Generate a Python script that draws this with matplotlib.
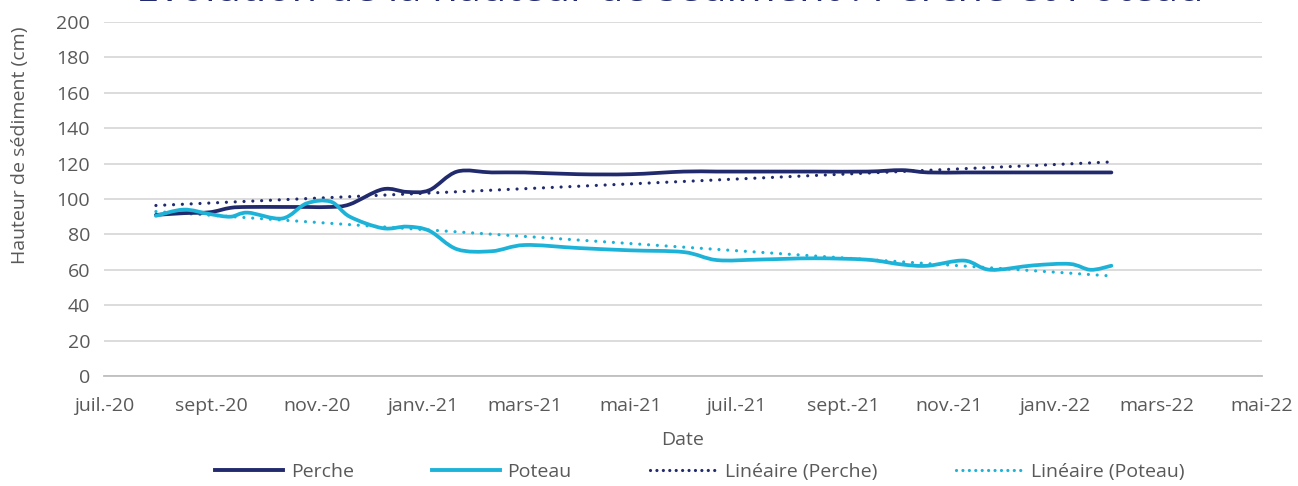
import numpy as np
import matplotlib
matplotlib.use("Agg")
import matplotlib.pyplot as plt
import matplotlib.dates as mdates
from matplotlib.path import Path
from matplotlib.patches import PathPatch
from matplotlib.lines import Line2D

plt.rcParams['font.family'] = ['Open Sans', 'DejaVu Sans']

# ---------------- data ----------------
dates = ["2020-07-31", "2020-08-16", "2020-08-31", "2020-09-12", "2020-09-22",
         "2020-10-12", "2020-10-26", "2020-11-09", "2020-11-20", "2020-12-09",
         "2020-12-23", "2021-01-05", "2021-01-21", "2021-02-10", "2021-03-01",
         "2021-04-01", "2021-05-01", "2021-06-01", "2021-06-20", "2021-07-15",
         "2021-08-15", "2021-09-15", "2021-10-05", "2021-10-20", "2021-11-10",
         "2021-11-25", "2021-12-20", "2022-01-10", "2022-01-22", "2022-02-03"]
perche = [91, 92, 92.5, 95, 95.5, 95.5, 95.5, 95.5, 97, 105.5,
          104, 105, 115.5, 115, 115, 114, 114, 115.5, 115.5, 115.5,
          115.5, 115.5, 116.3, 115, 115, 115, 115, 115, 115, 115]
poteau = [90.5, 94, 91.5, 90, 92.3, 89, 97.5, 98.5, 90, 83.5,
          84.4, 82, 71.6, 70.5, 74, 72.3, 71, 70, 65.5, 65.8,
          66.5, 65.7, 63, 62.3, 65.2, 60, 62.5, 63.3, 60, 62.3]
series_names = ["Perche", "Poteau"]
trend_names = ["Linéaire (Perche)", "Linéaire (Poteau)"]
tick_dates = ["2020-07-01", "2020-09-01", "2020-11-01", "2021-01-01", "2021-03-01",
              "2021-05-01", "2021-07-01", "2021-09-01", "2021-11-01", "2022-01-01",
              "2022-03-01", "2022-05-01"]
tick_labels = ["juil.-20", "sept.-20", "nov.-20", "janv.-21", "mars-21", "mai-21",
               "juil.-21", "sept.-21", "nov.-21", "janv.-22", "mars-22", "mai-22"]
y_ticks = list(range(0, 201, 20))
title = "Évolution de la hauteur de sédiment : Perche et Poteau"

# ---------------- style ----------------
NAVY = "#222A6E"
CYAN = "#1DB3D8"
GRID = "#D9D9D9"
TXT = "#595959"
FS = 14

W, H = 1298, 486
fig = plt.figure(figsize=(W / 100, H / 100), dpi=100)
L, R, T, B = 104, 1262, 22, 376
ax = fig.add_axes([L / W, 1 - B / H, (R - L) / W, (B - T) / H])

x = mdates.date2num(np.array(dates, dtype="datetime64[D]"))


def smooth_path(xs, ys):
    xs = np.asarray(xs, float)
    ys = np.asarray(ys, float)
    P = np.column_stack([xs, ys])
    n = len(P)
    verts = [P[0]]
    codes = [Path.MOVETO]
    for i in range(n - 1):
        p0 = P[i - 1] if i > 0 else P[i]
        p1 = P[i]
        p2 = P[i + 1]
        p3 = P[i + 2] if i + 2 < n else P[i + 1]
        c1 = p1 + (p2 - p0) / 6.0
        c2 = p2 - (p3 - p1) / 6.0
        verts += [c1, c2, p2]
        codes += [Path.CURVE4] * 3
    return Path(verts, codes)


for vals, col in [(perche, NAVY), (poteau, CYAN)]:
    patch = PathPatch(smooth_path(x, vals), fill=False, edgecolor=col, lw=2.7,
                      capstyle="round", joinstyle="round", zorder=3)
    ax.add_patch(patch)

dot_style = (0, (0.01, 2.75))
for vals, col in [(perche, NAVY), (poteau, CYAN)]:
    k, b = np.polyfit(x, vals, 1)
    xx = np.array([x[0], x[-1]])
    ax.plot(xx, k * xx + b, color=col, lw=2.3, linestyle=dot_style,
            dash_capstyle="round", zorder=2)

xt = mdates.date2num(np.array(tick_dates, dtype="datetime64[D]"))
ax.set_xlim(xt[0], xt[-1])
ax.set_ylim(0, 200)
ax.set_xticks(xt)
ax.set_xticklabels(tick_labels)
ax.set_yticks(y_ticks)
ax.tick_params(axis="both", length=0, labelsize=FS, colors=TXT)
ax.tick_params(axis="x", pad=15)
ax.tick_params(axis="y", pad=10)
ax.grid(axis="y", color=GRID, lw=1.3)
ax.set_axisbelow(True)
for s in ["left", "right", "top"]:
    ax.spines[s].set_visible(False)
ax.spines["bottom"].set_color("#BFBFBF")
ax.spines["bottom"].set_linewidth(1.3)

fig.text(20 / W, 1 - 145 / H, "Hauteur de sédiment (cm)", rotation=90,
         ha="center", va="center", fontsize=FS, color=TXT)
fig.text(683 / W, 1 - 440 / H, "Date", ha="center", va="center",
         fontsize=FS, color=TXT)
fig.text(670 / W, 1 - 11 / H, title, ha="center", va="bottom",
         fontsize=30, color=NAVY)

handles = [Line2D([], [], color=NAVY, lw=2.8),
           Line2D([], [], color=CYAN, lw=2.8),
           Line2D([], [], color=NAVY, lw=2.3, linestyle=(0, (0.01, 2.0)), dash_capstyle="round"),
           Line2D([], [], color=CYAN, lw=2.3, linestyle=(0, (0.01, 2.0)), dash_capstyle="round")]
leg = fig.legend(handles, series_names + trend_names, loc="center",
                 bbox_to_anchor=(700 / W, 1 - 472 / H), ncol=4, frameon=False,
                 fontsize=FS, handlelength=3.5, handletextpad=0.4,
                 columnspacing=4.0, borderpad=0)
for t in leg.get_texts():
    t.set_color(TXT)

fig.savefig("out.png", dpi=100)
